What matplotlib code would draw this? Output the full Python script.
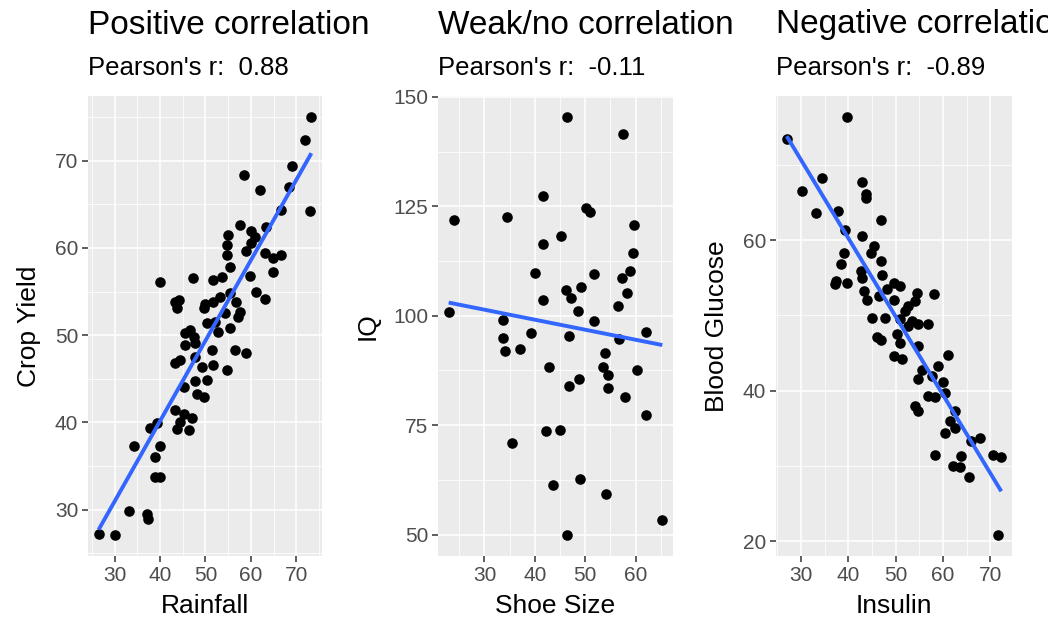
import numpy as np
import matplotlib
matplotlib.use("Agg")
import matplotlib.pyplot as plt

plt.rcParams['font.family'] = ['Liberation Sans', 'DejaVu Sans']

# === Data ===
rain = [26.5, 30.0, 33.1, 37.2, 37.4, 34.3, 38.8, 39.9, 38.8, 39.9, 37.8, 39.3,
        43.4, 45.2, 47.0, 44.5, 43.8, 46.3, 45.2, 47.8, 50.3, 48.1, 49.6, 54.7,
        43.4, 44.5, 47.8, 49.2, 51.7, 51.4, 56.5, 59.0, 45.6, 47.8, 46.7, 45.6,
        47.4, 50.3, 52.1, 55.4, 52.8, 54.3, 56.8, 57.5, 57.2, 55.4, 53.2, 51.7,
        49.9, 49.6, 43.4, 44.1, 43.8, 61.2, 63.0, 40.0, 47.3, 55.4, 53.6, 51.7,
        59.7, 54.7, 54.7, 59.0, 60.1, 63.0, 66.6, 64.8, 64.8, 55.0, 57.7, 58.4,
        61.9, 60.1, 60.9, 63.3, 66.6, 68.3, 69.1, 71.8, 73.3, 73.1]
crop = [27.2, 27.1, 29.9, 29.5, 29.0, 37.3, 33.7, 33.7, 36.0, 37.3, 39.4, 39.9,
        41.4, 41.0, 40.5, 40.1, 39.3, 39.1, 44.1, 44.7, 44.9, 43.3, 42.9, 46.0,
        46.8, 47.1, 47.5, 46.4, 46.6, 48.3, 48.3, 48.0, 48.9, 49.1, 50.6, 50.2,
        49.8, 51.4, 51.5, 50.8, 50.4, 52.5, 53.8, 52.7, 52.1, 54.8, 54.4, 53.8,
        53.6, 53.1, 53.8, 54.0, 53.1, 54.9, 54.1, 56.1, 56.6, 57.8, 56.7, 56.3,
        56.8, 60.3, 59.2, 59.6, 60.5, 59.4, 59.2, 58.8, 57.2, 61.5, 62.6, 68.4,
        66.6, 61.9, 61.3, 62.4, 64.3, 67.0, 69.4, 72.4, 75.0, 64.2]

shoe = [22.9, 24.0, 46.3, 57.4, 41.7, 34.4, 50.2, 51.0, 59.7, 45.2, 41.7, 59.5,
        40.0, 51.7, 58.8, 57.2, 46.2, 47.1, 49.2, 58.2, 41.7, 56.6, 48.6, 33.7,
        51.7, 33.7, 39.2, 46.7, 56.8, 62.1, 34.1, 37.0, 54.0, 42.8, 53.6, 54.6,
        60.2, 48.7, 46.7, 54.6, 57.8, 62.0, 42.3, 45.0, 35.4, 49.0, 43.6, 54.1,
        46.4, 65.3]
iq = [100.8, 121.9, 145.4, 141.6, 127.4, 122.5, 124.7, 123.6, 120.7, 118.2, 116.3, 114.3,
      109.7, 109.6, 110.1, 108.6, 105.9, 104.0, 106.5, 105.3, 103.5, 102.3, 101.0, 99.1,
      98.9, 94.9, 96.0, 95.4, 94.7, 96.3, 92.0, 92.4, 91.5, 88.2, 88.4, 86.5,
      87.7, 85.6, 83.9, 83.5, 81.5, 77.4, 73.6, 74.0, 71.0, 62.6, 61.3, 59.2,
      49.9, 53.3]

insulin = [27.0, 39.8, 30.3, 34.5, 33.1, 37.8, 39.3, 42.9, 43.8, 43.8, 47.0, 42.9,
           39.1, 38.4, 37.3, 39.8, 37.2, 45.4, 44.7, 46.8, 42.6, 42.9, 47.1, 43.3,
           44.0, 46.4, 48.2, 49.6, 51.0, 49.6, 54.5, 54.1, 52.7, 52.0, 58.0, 45.0,
           47.8, 51.0, 53.4, 54.8, 56.9, 52.7, 46.1, 46.8, 50.3, 51.0, 54.8, 49.6,
           51.3, 61.1, 59.0, 55.5, 54.8, 57.6, 60.1, 60.4, 56.9, 58.3, 54.1, 54.8,
           62.5, 61.5, 62.5, 60.4, 58.3, 63.9, 62.2, 63.6, 65.5, 67.8, 66.0, 70.6,
           72.3, 71.7]
glucose = [73.5, 76.4, 66.5, 68.3, 63.6, 63.9, 61.3, 67.8, 66.1, 65.6, 62.7, 60.5,
           58.3, 56.8, 54.6, 54.3, 54.2, 59.2, 58.3, 57.2, 55.9, 55.0, 55.4, 53.2,
           52.1, 52.6, 53.5, 54.3, 53.9, 52.1, 53.0, 51.9, 51.2, 50.6, 52.8, 49.7,
           49.7, 49.5, 49.2, 48.8, 48.8, 48.6, 47.2, 46.8, 47.5, 46.4, 45.9, 44.6,
           44.2, 44.7, 43.3, 42.8, 41.5, 41.9, 41.1, 39.7, 39.3, 39.1, 37.9, 37.3,
           37.3, 36.0, 35.1, 34.4, 31.5, 31.3, 30.0, 29.8, 28.5, 33.7, 33.3, 31.5,
           31.2, 20.8]

titles = ["Positive correlation", "Weak/no correlation", "Negative correlation"]
subtitles = ["Pearson's r:  0.88", "Pearson's r:  -0.11", "Pearson's r:  -0.89"]
xlabels = ["Rainfall", "Shoe Size", "Insulin"]
ylabels = ["Crop Yield", "IQ", "Blood Glucose"]

W, H = 1048, 623
fig = plt.figure(figsize=(W / 100, H / 100), dpi=100)

# panel left/right edges in pixels
panels = [(88, 322), (438, 673), (776, 1012)]
top_px, bot_px = 96, 556

datasets = [(rain, crop), (shoe, iq), (insulin, glucose)]
xticks = [([30, 40, 50, 60, 70], [25, 35, 45, 55, 65, 75]),
          ([30, 40, 50, 60], [25, 35, 45, 55, 65]),
          ([30, 40, 50, 60, 70], [25, 35, 45, 55, 65, 75])]
yticks = [([30, 40, 50, 60, 70], [25, 35, 45, 55, 65, 75]),
          ([50, 75, 100, 125, 150], [62.5, 87.5, 112.5, 137.5]),
          ([20, 40, 60], [30, 50, 70])]

for i, (l, r) in enumerate(panels):
    ax = fig.add_axes([l / W, (H - bot_px) / H, (r - l) / W, (bot_px - top_px) / H])
    x, y = np.array(datasets[i][0]), np.array(datasets[i][1])

    ax.scatter(x, y, s=58, color='black', linewidths=0, zorder=3)
    m, b = np.polyfit(x, y, 1)
    xs = np.array([x.min(), x.max()])
    ax.plot(xs, m * xs + b, color='#3366FF', lw=2.8, zorder=4, solid_capstyle='butt')

    ax.set_facecolor('#EBEBEB')
    for s in ax.spines.values():
        s.set_visible(False)
    ax.set_xticks(xticks[i][0])
    ax.set_xticks(xticks[i][1], minor=True)
    ax.set_yticks(yticks[i][0])
    ax.set_yticks(yticks[i][1], minor=True)
    ax.margins(0.05)
    ax.grid(which='major', color='white', lw=1.1)
    ax.grid(which='minor', color='white', lw=0.55)
    ax.set_axisbelow(True)
    ax.tick_params(which='minor', length=0)
    ax.tick_params(which='major', length=4, width=1.1, color='#333333',
                   labelcolor='#4D4D4D', labelsize=15, pad=3)
    ax.set_xlabel(xlabels[i], fontsize=19, labelpad=7)
    ax.set_ylabel(ylabels[i], fontsize=19, labelpad=10)

    # titles sit flush with the panel's left edge, like ggplot
    fig.text(l / W, 1 - 33.5 / H, titles[i], fontsize=24, va='baseline', ha='left')
    fig.text(l / W, 1 - 75 / H, subtitles[i], fontsize=18.5, va='baseline', ha='left')

fig.savefig("out.png", dpi=100)
